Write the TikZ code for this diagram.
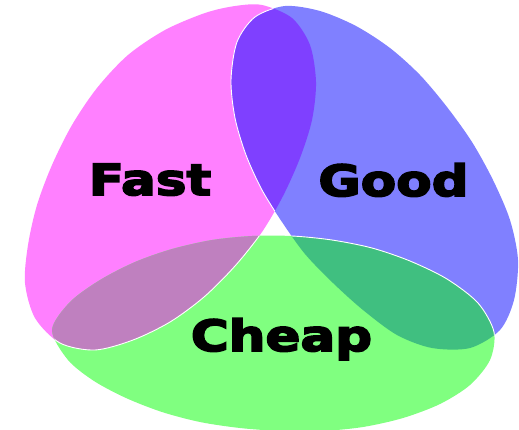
\documentclass[tikz,border=0pt]{standalone}
\usepackage{fontspec}
\newfontfamily\wordfont{DejaVu Sans}[FakeStretch=1.2, FakeBold=4]

\begin{document}
\begin{tikzpicture}[x=1pt, y=-1pt,
    word/.style={font=\wordfont\bfseries\fontsize{43}{50}\selectfont, inner sep=0pt, anchor=base},
    edge/.style={draw=white, line width=0.9pt},
    fast shape/.style={insert path={plot[smooth cycle] coordinates {(262,5) (292,18) (310,45) (316,82) (312,120) (300,158) (283,196) (262,232) (235,266) (204,297) (170,322) (133,340) (95,350) (60,343) (35,318) (25,283) (28,245) (37,205) (52,165) (72,125) (97,88) (128,55) (165,30) (205,13) (235,6)}}},
    good shape/.style={insert path={plot[smooth cycle] coordinates {(285,6) (320,11) (356,26) (390,48) (420,75) (447,107) (472,142) (493,180) (510,220) (518,260) (514,300) (500,330) (470,348) (432,348) (397,335) (363,310) (333,283) (305,254) (282,222) (262,190) (246,155) (235,118) (231,80) (237,42) (255,17)}}},
    cheap shape/.style={insert path={plot[smooth cycle] coordinates {(52,330) (70,302) (100,280) (135,262) (172,249) (212,240) (252,236) (292,236) (332,240) (372,248) (410,261) (447,279) (478,303) (494,332) (490,360) (470,385) (440,404) (403,418) (363,427) (322,431) (281,431) (240,428) (200,422) (162,412) (126,398) (94,381) (68,360)}}}]

    \definecolor{fast-pink}{HTML}{FF80FF}
    \definecolor{good-blue}{HTML}{8080FF}
    \definecolor{cheap-green}{HTML}{80FF80}
    \definecolor{fastgood}{HTML}{7F40FF}
    \definecolor{fastcheap}{HTML}{BF80BF}
    \definecolor{goodcheap}{HTML}{40BF80}

    \useasboundingbox (0,0) rectangle (519,429);

    \fill[fast-pink, fast shape];
    \fill[good-blue, good shape];
    \fill[cheap-green, cheap shape];

    \begin{scope}
        \clip[fast shape];
        \fill[fastgood, good shape];
    \end{scope}
    \begin{scope}
        \clip[fast shape];
        \fill[fastcheap, cheap shape];
    \end{scope}
    \begin{scope}
        \clip[good shape];
        \fill[goodcheap, cheap shape];
    \end{scope}
    \begin{scope}
        \clip[fast shape];
        \clip[good shape];
        \fill[white, cheap shape];
    \end{scope}

    \begin{scope}
        \clip[fast shape];
        \path[edge, good shape];
    \end{scope}
    \begin{scope}
        \clip[cheap shape];
        \path[edge, fast shape];
    \end{scope}
    \begin{scope}
        \clip[good shape];
        \path[edge, cheap shape];
    \end{scope}

    \node[word] (fast) at (150,195) {Fast};
    \node[word] (good) at (393.5,196) {Good};
    \node[word] (cheap) at (281.5,351) {Cheap};

\end{tikzpicture}
\end{document}
